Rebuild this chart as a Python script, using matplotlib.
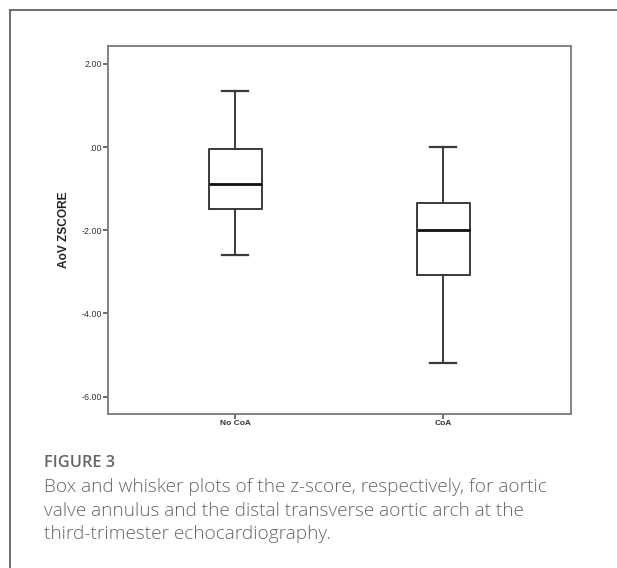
import matplotlib
matplotlib.use('Agg')
import matplotlib.pyplot as plt
from matplotlib.lines import Line2D

# values
groups = ['No CoA', 'CoA']
whis_low = [-2.60, -5.18]
q1 = [-1.48, -3.08]
median = [-0.88, -2.00]
q3 = [-0.05, -1.35]
whis_high = [1.35, 0.00]
yticks = [2.0, 0.0, -2.0, -4.0, -6.0]
ytick_labels = ['2.00', '.00', '-2.00', '-4.00', '-6.00']

caption_title = 'FIGURE 3'
caption_body = ('Box and whisker plots of the z-score, respectively, for aortic\n'
                'valve annulus and the distal transverse aortic arch at the\n'
                'third-trimester echocardiography.')

fig = plt.figure(figsize=(6.17, 5.68), dpi=100)
ax = fig.add_axes([0.175, 0.271, 0.7504, 0.648])

stats = []
for i, g in enumerate(groups):
    stats.append(dict(label=g, whislo=whis_low[i], q1=q1[i], med=median[i],
                      q3=q3[i], whishi=whis_high[i], fliers=[]))

ax.bxp(stats, positions=[1, 2], widths=0.255, showfliers=False,
       boxprops=dict(color='#3a3a3a', linewidth=1.4),
       whiskerprops=dict(color='#3a3a3a', linewidth=1.4),
       capprops=dict(color='#3a3a3a', linewidth=1.6),
       medianprops=dict(color='#111111', linewidth=2.0),
       capwidths=0.125)

ax.set_xlim(0.387, 2.613)
ax.set_ylim(-6.42, 2.43)
ax.set_yticks(yticks)
ax.set_yticklabels(ytick_labels)
ax.set_xticks([1, 2])
ax.set_xticklabels(groups)

for s in ax.spines.values():
    s.set_color('#7a7a7a')
    s.set_linewidth(1.3)
ax.tick_params(axis='both', direction='out', length=3.5, width=1.1,
               color='#444444', labelsize=6.4, labelcolor='#333333', pad=1)
for lab in ax.get_yticklabels():
    lab.set_family('Liberation Sans')
for lab in ax.get_xticklabels():
    lab.set_family('Liberation Sans')
    lab.set_fontweight('bold')
    lab.set_fontsize(6.0)
ax.set_ylabel('AoV ZSCORE', fontsize=8.6, fontweight='bold', color='#222222',
              family='Liberation Sans', labelpad=8)

# outer frame, open at the right and bottom
fig.add_artist(Line2D([10 / 617, 10 / 617], [0, 1 - 10 / 568],
                      transform=fig.transFigure, color='#555555', linewidth=1.2))
fig.add_artist(Line2D([10 / 617, 1], [1 - 10 / 568, 1 - 10 / 568],
                      transform=fig.transFigure, color='#555555', linewidth=1.2))

fig.text(44 / 617, 1 - 463 / 568, caption_title, fontsize=11.8, color='#666666',
         family='Open Sans', fontweight='semibold', va='center', ha='left')
fig.text(44 / 617, 1 - 478 / 568, caption_body, fontsize=13.7, color='#666666',
         family='Open Sans', fontweight='light', va='top', ha='left',
         linespacing=1.4)

fig.savefig('out.png', dpi=100)
